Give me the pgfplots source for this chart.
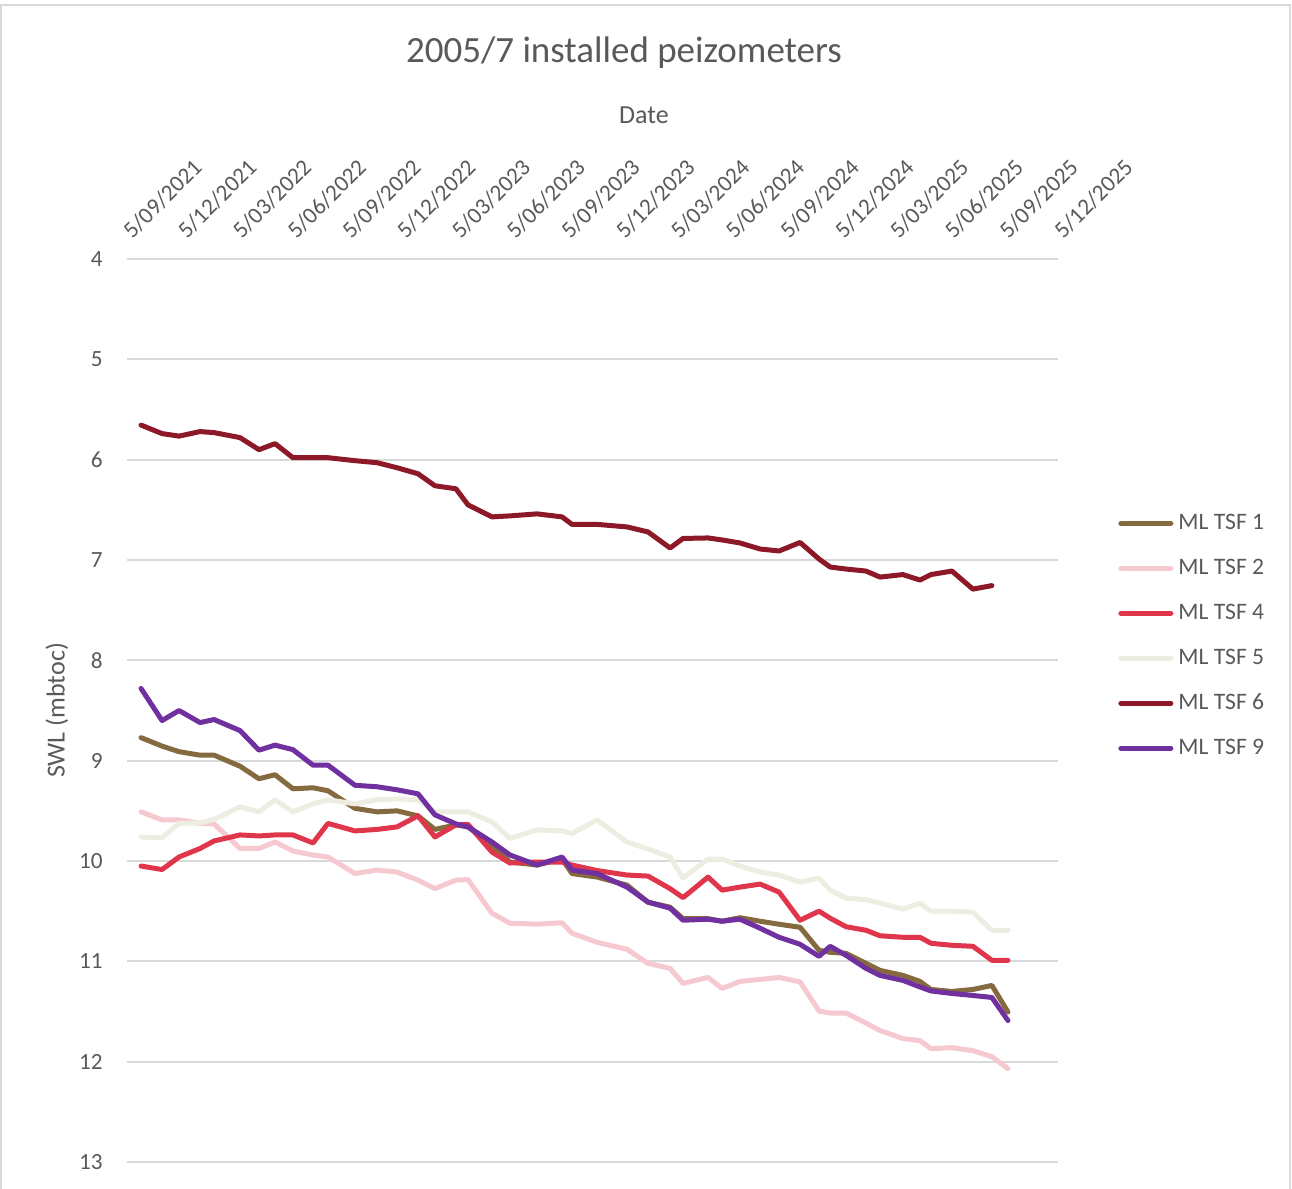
\documentclass[border=0pt]{standalone}
\usepackage{fontspec}
\setmainfont{Carlito}
\usepackage{pgfplots}
\pgfplotsset{compat=1.18}
\usepackage{pgfplotstable}
\definecolor{c1}{HTML}{846A3E}
\definecolor{c2}{HTML}{F5C9CF}
\definecolor{c4}{HTML}{E0364C}
\definecolor{c5}{HTML}{EDEDE2}
\definecolor{c6}{HTML}{8C1828}
\definecolor{c9}{HTML}{7030A0}
\definecolor{txt}{HTML}{595959}
\definecolor{grd}{HTML}{D9D9D9}

% x = months after 5/09/2021
\pgfplotstableread{
x t1 t2 t4 t5 t6 t9
0.77 8.77 9.51 10.05 9.76 5.655 8.28
1.92 8.855 9.59 10.085 9.77 5.74 8.60
2.85 8.91 9.59 9.96 9.625 5.765 8.50
4.00 8.945 9.625 9.875 9.62 5.72 8.62
4.77 8.945 9.63 9.80 9.585 5.73 8.59
6.19 9.055 9.875 9.74 9.46 5.78 8.70
7.23 9.18 9.875 9.75 9.51 5.90 8.895
8.11 9.14 9.81 9.74 9.39 5.84 8.845
9.09 9.28 9.90 9.74 9.51 5.98 8.89
10.19 9.27 9.94 9.82 9.43 5.98 9.045
11.01 9.30 9.96 9.625 9.39 5.98 9.045
12.49 9.475 10.125 9.70 9.43 6.01 9.245
13.70 9.51 10.09 9.685 9.39 6.03 9.26
14.79 9.50 10.11 9.66 9.38 6.08 9.29
15.94 9.55 10.19 9.55 9.39 6.14 9.33
16.87 9.685 10.275 9.76 9.51 6.26 9.54
18.02 9.64 10.19 9.64 9.51 6.29 9.63
18.68 9.66 10.185 9.635 9.51 6.45 9.66
19.99 9.84 10.52 9.91 9.61 6.57 9.81
20.98 10.01 10.62 10.02 9.775 6.56 9.94
22.46 10.04 10.63 10.01 9.69 6.54 10.04
23.83 9.98 10.615 10.01 9.70 6.57 9.96
24.38 10.125 10.72 10.04 9.725 6.645 10.09
25.75 10.16 10.81 10.095 9.59 6.645 10.125
27.39 10.24 10.88 10.14 9.81 6.67 10.26
28.54 10.41 11.02 10.15 9.88 6.72 10.41
29.75 10.46 11.07 10.275 9.96 6.88 10.47
30.46 10.575 11.22 10.365 10.17 6.785 10.59
31.83 10.575 11.16 10.16 9.98 6.78 10.58
32.60 10.60 11.27 10.29 9.98 6.80 10.60
33.58 10.565 11.20 10.26 10.05 6.83 10.58
34.68 10.60 11.18 10.23 10.11 6.89 10.67
35.72 10.63 11.16 10.31 10.14 6.91 10.76
36.87 10.66 11.205 10.59 10.21 6.825 10.83
37.91 10.89 11.495 10.50 10.17 6.99 10.95
38.52 10.91 11.515 10.57 10.29 7.07 10.85
39.39 10.92 11.515 10.655 10.37 7.09 10.94
40.48 11.02 11.615 10.69 10.385 7.11 11.07
41.25 11.09 11.69 10.745 10.42 7.17 11.14
42.51 11.14 11.77 10.76 10.48 7.145 11.19
43.44 11.20 11.79 10.76 10.42 7.20 11.255
44.04 11.28 11.87 10.82 10.50 7.145 11.295
45.19 11.30 11.86 10.84 10.50 7.11 11.32
46.34 11.28 11.89 10.85 10.51 7.29 11.34
47.38 11.24 11.95 10.99 10.69 7.255 11.36
48.26 11.505 12.07 10.99 10.69 nan 11.59
}\data

\begin{document}
\begin{tikzpicture}
\begin{scope}[x=0.5pt,y=-0.5pt]
\useasboundingbox (0,0) rectangle (1292,1189);
\draw[grd, line width=1pt] (1,5) rectangle (1290,1200);
\node[txt, font=\fontsize{18.5}{22}\selectfont] at (624,53) {2005/7 installed peizometers};
\node[txt, font=\fontsize{13}{15}\selectfont] at (644,115) {Date};
\end{scope}
\begin{axis}[
  at={(63.5pt,-581pt)}, anchor=south west,
  scale only axis, width=465.5pt, height=451.5pt,
  xmin=0, xmax=51, ymin=4, ymax=13, y dir=reverse,
  axis line style={draw=none},
  major tick length=0pt, tick style={draw=none},
  ymajorgrids, grid style={grd, line width=1pt},
  xtick={0,3,...,51},
  xticklabels={5/09/2021,5/12/2021,5/03/2022,5/06/2022,5/09/2022,5/12/2022,5/03/2023,5/06/2023,5/09/2023,5/12/2023,5/03/2024,5/06/2024,5/09/2024,5/12/2024,5/03/2025,5/06/2025,5/09/2025,5/12/2025},
  xticklabel pos=upper,
  ytick={4,...,13},
  /pgf/number format/assume math mode=true,
  ticklabel style={text=txt, font=\fontsize{11.6}{13}\selectfont},
  xticklabel style={xshift=3pt, rotate=45, anchor=south west, inner sep=0pt},
  xticklabel shift=9pt,
  yticklabel style={anchor=east, inner sep=0pt},
  yticklabel shift=12pt,
  ylabel={SWL (mbtoc)},
  every axis y label/.style={at={(axis description cs:-0.0752,0.5)}, rotate=90, anchor=center, text=txt, font=\fontsize{13}{15}\selectfont},
  legend style={at={(1.0644,0.5826)}, anchor=west, draw=none, fill=none,
    font=\fontsize{11.8}{14}\selectfont, text=txt, inner sep=0pt,
    row sep=13.25pt, cells={anchor=west},
    nodes={inner sep=0pt},
    /tikz/every odd column/.append style={column sep=2.5pt}},
  legend image code/.code={\draw[#1, line cap=round] (1.25pt,0pt) -- (26.25pt,0pt);},
  every axis plot/.append style={line width=2.5pt, line join=round, line cap=round},
]
\addplot[c1] table[x=x,y=t1] {\data};
\addlegendentry{ML TSF 1}
\addplot[c2] table[x=x,y=t2] {\data};
\addlegendentry{ML TSF 2}
\addplot[c4] table[x=x,y=t4] {\data};
\addlegendentry{ML TSF 4}
\addplot[c5] table[x=x,y=t5] {\data};
\addlegendentry{ML TSF 5}
\addplot[c6] table[x=x,y=t6] {\data};
\addlegendentry{ML TSF 6}
\addplot[c9] table[x=x,y=t9] {\data};
\addlegendentry{ML TSF 9}
\end{axis}
\end{tikzpicture}
\end{document}
